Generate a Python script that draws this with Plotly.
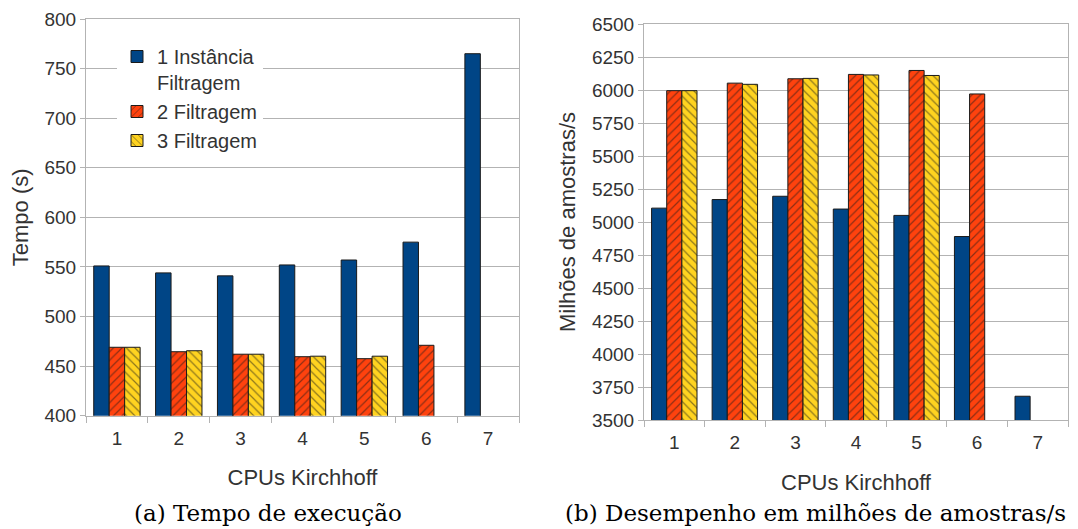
import plotly.graph_objects as go

categories = ["1", "2", "3", "4", "5", "6", "7"]
series_names = ["1 Instância<br>Filtragem", "2 Filtragem", "3 Filtragem"]

tempo_1inst = [551, 544, 541, 552, 557, 575, 765]
tempo_2filt = [469, 464.5, 462, 459.5, 457.5, 471, None]
tempo_3filt = [469, 465.5, 462, 460, 460, None, None]

desemp_1inst = [5105, 5170, 5195, 5098, 5050, 4890, 3680]
desemp_2filt = [5995, 6052, 6085, 6118, 6148, 5970, None]
desemp_3filt = [5995, 6043, 6088, 6114, 6110, None, None]

colors = ["#004586", "#ff420e", "#ffd320"]
patterns = ["", "/", "\\"]

fig = go.Figure()

def add_series(vals_list, xaxis, yaxis, showlegend):
    for name, vals, col, pat in zip(series_names, vals_list, colors, patterns):
        marker = dict(color=col, line=dict(color="#1a1a1a", width=1))
        if pat:
            marker["pattern"] = dict(shape=pat, fgcolor="#1a1a1a", bgcolor=col,
                                     size=6, solidity=0.2, fillmode="overlay")
        fig.add_trace(go.Bar(x=categories, y=vals, name=name, marker=marker,
                             xaxis=xaxis, yaxis=yaxis, showlegend=showlegend,
                             legendgroup=name))

add_series([tempo_1inst, tempo_2filt, tempo_3filt], "x", "y", True)
add_series([desemp_1inst, desemp_2filt, desemp_3filt], "x2", "y2", False)

# page has an 8px body margin: work in screen pixels and convert
OFF = 8
W, H = 1078 - OFF, 529 - OFF

def px(sx):
    return (sx - OFF) / W

def py(sy):
    return 1 - (sy - OFF) / H

grid = "#b3b3b3"
tickfont = dict(family="Liberation Sans", size=19, color="#333333")
titlefont = dict(family="Liberation Sans", size=22, color="#333333")

common_x = dict(showline=True, linecolor=grid, mirror=True, ticks="outside",
                tickson="boundaries", ticklen=6, tickcolor=grid, tickfont=tickfont,
                showgrid=False, type="category", automargin=False,
                ticklabelstandoff=5)
common_y = dict(showline=True, linecolor=grid, mirror=True, ticks="outside",
                ticklen=5, tickcolor=grid, tickfont=tickfont, showgrid=True,
                gridcolor=grid, gridwidth=1, zeroline=False, automargin=False)

fig.update_layout(
    width=W, height=H,
    margin=dict(l=0, r=0, t=0, b=0, autoexpand=False),
    paper_bgcolor="white", plot_bgcolor="white",
    barmode="group", bargap=0.25, bargroupgap=0,
    xaxis=dict(domain=[px(86), px(519)], anchor="y",
               title=dict(text="CPUs Kirchhoff", font=titlefont, standoff=22), **common_x),
    yaxis=dict(domain=[py(415.7), py(19)], anchor="x", range=[400, 800],
               dtick=50, title=dict(text="Tempo (s)", font=titlefont, standoff=13), **common_y),
    xaxis2=dict(domain=[px(644), px(1068)], anchor="y2",
                title=dict(text="CPUs Kirchhoff", font=titlefont, standoff=22), **common_x),
    yaxis2=dict(domain=[py(420), py(24)], anchor="x2", range=[3500, 6500],
                dtick=250, title=dict(text="Milhões de amostras/s", font=titlefont, standoff=10),
                **common_y),
    legend=dict(x=px(117), y=py(37), xanchor="left", yanchor="top",
                bgcolor="white", borderwidth=0, valign="top",
                font=dict(family="Liberation Sans", size=20, color="#333333"),
                tracegroupgap=0),
    font=dict(family="Liberation Sans"),
)

capfont = dict(family="DejaVu Serif", size=23, color="black")
fig.add_annotation(text="(a) Tempo de execução", x=px(268), y=py(513),
                   xref="paper", yref="paper", showarrow=False, font=capfont,
                   xanchor="center", yanchor="middle")
fig.add_annotation(text="(b) Desempenho em milhões de amostras/s", x=px(815), y=py(513),
                   xref="paper", yref="paper", showarrow=False, font=capfont,
                   xanchor="center", yanchor="middle")

fig.write_html("out.html")
